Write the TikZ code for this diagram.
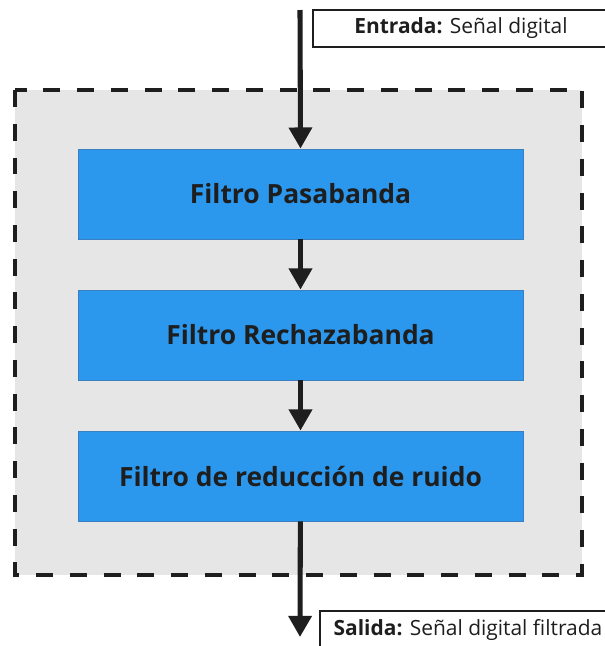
\documentclass[tikz,border=0pt]{standalone}
\usepackage{fontspec}
\setmainfont{Open Sans}
\usepackage{tikz}
\usetikzlibrary{arrows.meta, positioning}

\definecolor{filtroblue}{HTML}{2B98EE}
\definecolor{filtroedge}{HTML}{3A7FBF}
\definecolor{fondogris}{HTML}{E6E6E6}
\definecolor{textonegro}{HTML}{1E1E1E}

\begin{document}
\begin{tikzpicture}[
    x=0.025cm, y=-0.025cm,
    filtro/.style={rectangle, draw=filtroedge, line width=0.6pt, fill=filtroblue,
                   minimum width=11.125cm, minimum height=2.25cm,
                   font=\fontsize{18.8}{22}\selectfont\bfseries, text=textonegro},
    etiqueta/.style={rectangle, draw=textonegro, line width=1pt, fill=white,
                     minimum width=7.4cm, minimum height=0.925cm,
                     font=\fontsize{14.9}{17}\selectfont, text=textonegro},
    flow/.style={-{Triangle[length=15pt, width=16pt]}, line width=3.6pt, textonegro},
    grupo/.style={draw=textonegro, line width=3pt, dash pattern=on 12pt off 12pt,
                  fill=fondogris}
]
\useasboundingbox (0,0) rectangle (605,646);
\clip (0,0) rectangle (605,646);

% Processing group
\draw[grupo] (15,90) rectangle (582,575);

% Filters
\node[filtro] (pasa) at (300.5,194) {Filtro Pasabanda};
\node[filtro] (rechaza) at (300.5,335) {Filtro Rechazabanda};
\node[filtro] (ruido) at (300.5,476) {Filtro de reducción de ruido};

% Input/Output
\coordinate (in) at (300,10);
\coordinate (out) at (300,637);
\node[etiqueta] (entrada) at (461,28.5) {\textbf{Entrada:} Señal digital};
\node[etiqueta] (salida) at (468,629.5) {\textbf{Salida:} Señal digital filtrada};

% Signal flow
\draw[flow] (in) -- (pasa.north);
\draw[flow] (pasa) -- (rechaza);
\draw[flow] (rechaza) -- (ruido);
\draw[flow] (ruido) -- (out);
\end{tikzpicture}
\end{document}
